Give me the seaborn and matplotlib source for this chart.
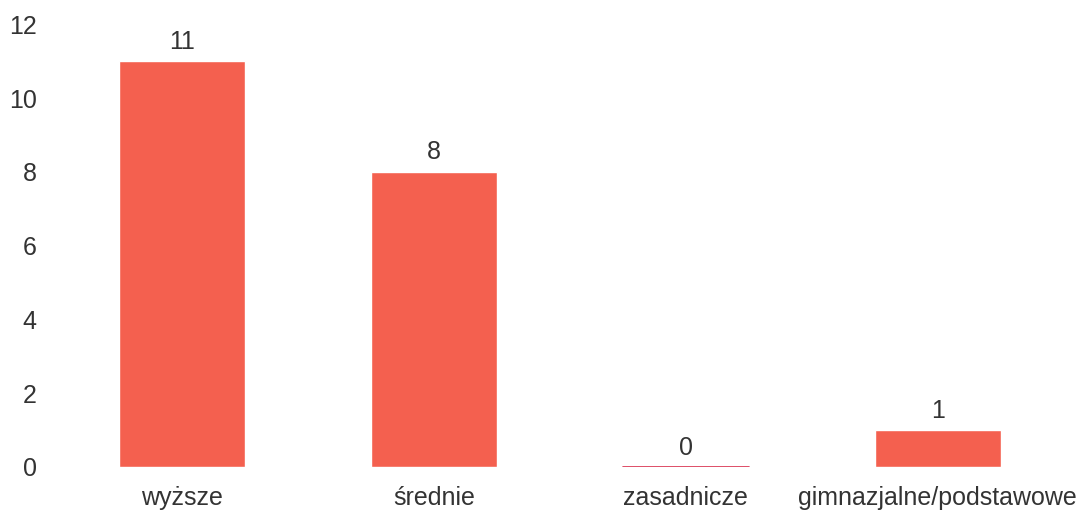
import matplotlib
matplotlib.use("Agg")
import matplotlib.pyplot as plt
import seaborn as sns
import pandas as pd

categories = ["wyższe", "średnie", "zasadnicze", "gimnazjalne/podstawowe"]
values = [11, 8, 0, 1]
yticks = [0, 2, 4, 6, 8, 10, 12]

sns.set_theme(style="white")
plt.rcParams['font.family'] = ['Liberation Sans', 'DejaVu Sans']

df = pd.DataFrame({"cat": categories, "val": values})
fig = plt.figure(figsize=(10.8, 5.16), dpi=100)
ax = fig.add_axes([0.052, 0.095, 0.933, 0.858])
sns.barplot(data=df, x="cat", y="val", color="#F4604F", saturation=1, width=0.5, ax=ax)
for p, v in zip(ax.patches, values):
    if v == 0:
        ax.plot([p.get_x(), p.get_x() + p.get_width()], [0, 0], color="#D8304E", lw=1.2)
    ax.text(p.get_x() + p.get_width() / 2, v + 0.2, str(v), ha="center", va="bottom",
            fontsize=18, color="#333333")
ax.set_xlim(-0.5, len(categories) - 0.5)
ax.set_ylim(0, 12)
ax.set_yticks(yticks)
ax.set_xlabel("")
ax.set_ylabel("")
for s in ax.spines.values():
    s.set_visible(False)
ax.tick_params(axis="both", length=0, labelsize=18, colors="#333333")
ax.tick_params(axis="y", pad=14)
ax.tick_params(axis="x", pad=14)
fig.savefig("out.png", dpi=100)
